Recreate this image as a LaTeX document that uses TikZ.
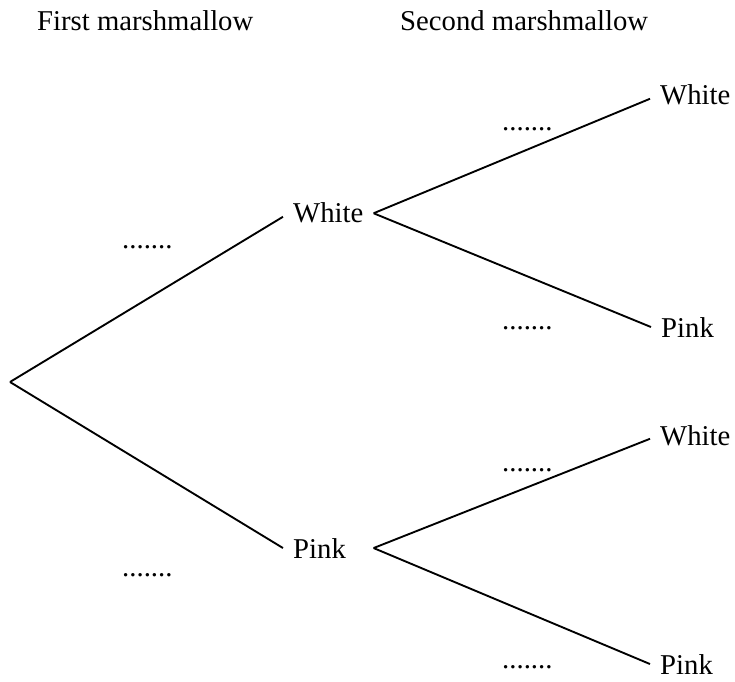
\documentclass[tikz,border=0pt]{standalone}
\usepackage{fontspec}
\setmainfont{Liberation Serif}
\begin{document}
\begin{tikzpicture}[x=0.03cm,y=-0.03cm,
    every node/.style={font=\fontsize{24.5}{29}\selectfont},
    outcome/.style={anchor=base west,inner xsep=0.3cm,inner ysep=0pt},
    blank/.style={anchor=base west,inner sep=0pt},
    branch/.style={line width=1.6pt}]
  \useasboundingbox (0,0) rectangle (735,682);
  % headings
  \node[blank] (h1) at (37,31) {First marshmallow};
  \node[blank] (h2) at (400,31) {Second marshmallow};
  % first marshmallow
  \coordinate (root) at (10,382);
  \node[outcome] (w) at (283,223) {White};
  \node[outcome] (p) at (283,558) {Pink};
  \draw[branch] (root) -- ([yshift=-3pt]w.west);
  \draw[branch] (root) -- (p.west);
  \node[blank] (dw) at (122,249) {.......};
  \node[blank] (dp) at (122,576) {.......};
  % second marshmallow
  \node[outcome] (ww) at (650,105) {White};
  \node[outcome] (wp) at (651,337) {Pink};
  \node[outcome] (pw) at (650,445) {White};
  \node[outcome] (pp) at (650,674) {Pink};
  \coordinate (pe) at (w.east |- p.west);
  \draw[branch] (w.east) -- ([yshift=-3pt]ww.west);
  \draw[branch] (w.east) -- (wp.west);
  \draw[branch] (pe) -- ([yshift=-3pt]pw.west);
  \draw[branch] (pe) -- (pp.west);
  \node[blank] (dww) at (502,131) {.......};
  \node[blank] (dwp) at (502,329) {.......};
  \node[blank] (dpw) at (502,471) {.......};
  \node[blank] (dpp) at (502,668) {.......};
\end{tikzpicture}
\end{document}
